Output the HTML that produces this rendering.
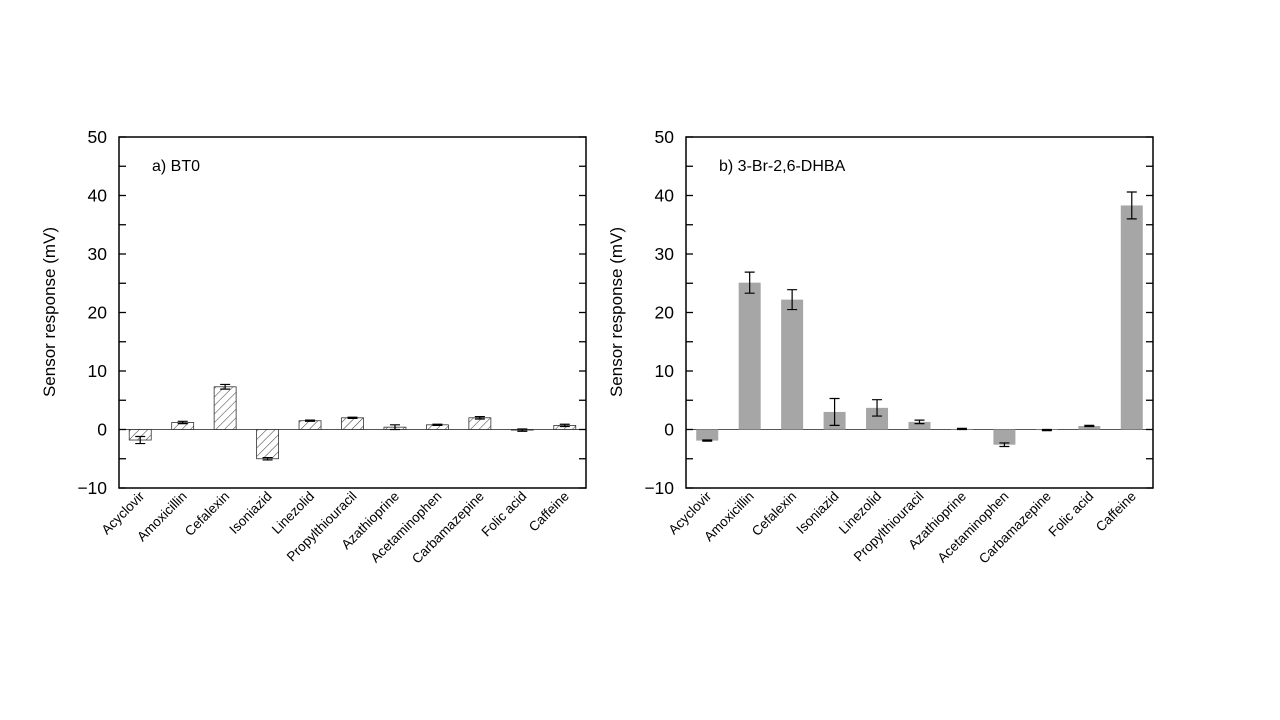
<!DOCTYPE html>
<html><head><meta charset="utf-8"><style>
body{margin:0;background:#fff;}
svg{display:block;font-family:"Liberation Sans",Arial,sans-serif;}
</style></head><body>
<svg id="chart" width="1280" height="720">
<defs>
<pattern id="hatch" width="6" height="6" patternUnits="userSpaceOnUse" patternTransform="rotate(45)">
<rect width="6" height="6" fill="#fff"/><line x1="0" y1="0" x2="0" y2="6" stroke="#444" stroke-width="1.1"/>
</pattern>
</defs>
</svg>
<script>
const categories=["Acyclovir","Amoxicillin","Cefalexin","Isoniazid","Linezolid","Propylthiouracil","Azathioprine","Acetaminophen","Carbamazepine","Folic acid","Caffeine"];
const bt0Values=[-1.8,1.2,7.3,-5.0,1.5,2.0,0.4,0.8,2.0,-0.1,0.7];
const bt0Errors=[0.6,0.2,0.4,0.2,0.1,0.1,0.4,0.1,0.2,0.2,0.2];
const dhbaValues=[-1.9,25.1,22.2,3.0,3.7,1.3,0.1,-2.6,-0.1,0.6,38.3];
const dhbaErrors=[0.1,1.8,1.7,2.3,1.4,0.3,0.1,0.3,0.1,0.1,2.3];
const yTicks=[-10,0,10,20,30,40,50];
const NS="http://www.w3.org/2000/svg";
const svg=document.getElementById('chart');
function mk(tag,attrs,parent){const e=document.createElementNS(NS,tag);for(const k in attrs)e.setAttribute(k,attrs[k]);(parent||svg).appendChild(e);return e;}
function panel(x0,x1,title,vals,errs,fill,name){
  const yTop=137,yBot=488,vMin=-10,vMax=50;
  const y=v=>yBot-(v-vMin)/(vMax-vMin)*(yBot-yTop);
  const step=(x1-x0)/categories.length;
  const g=mk('g',{});
  
  
  const zl=mk('line',{x1:x0,x2:x1,y1:y(0),y2:y(0),stroke:'#555','stroke-width':1},g);
  
  
  vals.forEach((v,i)=>{
    const cx=x0+step*(i+0.5),w=22;
    const r=mk('rect',{x:cx-w/2,y:Math.min(y(v),y(0)),width:w,height:Math.abs(y(v)-y(0)),fill:fill,stroke:fill==='#a6a6a6'?'none':'#333','stroke-width':0.8},g);
    
    
    const e=errs[i],ya=y(v+e),yb=y(v-e);
    const eg=mk('path',{d:`M${cx},${ya}V${yb}M${cx-5},${ya}H${cx+5}M${cx-5},${yb}H${cx+5}`,stroke:'#000','stroke-width':1.2,fill:'none'},g);
    
    
    const t=mk('text',{x:cx+5,y:497,'font-size':13.5,'text-anchor':'end',transform:`rotate(-45 ${cx+5} 497)`},g);
    t.textContent=categories[i];
    
    
  });
  for(let v=-10;v<=50;v+=5){
    const yy=y(v);
    mk('line',{x1:x0,x2:x0+7,y1:yy,y2:yy,stroke:'#000','stroke-width':1.3},g);
    mk('line',{x1:x1,x2:x1-7,y1:yy,y2:yy,stroke:'#000','stroke-width':1.3},g);
  }
  yTicks.forEach(v=>{
    const t=mk('text',{x:x0-12,y:y(v)+6,'font-size':17.5,'text-anchor':'end'},g);
    t.textContent=v<0?'\u2212'+(-v):v;
    
    
  });
  const fr=mk('rect',{x:x0,y:yTop,width:x1-x0,height:yBot-yTop,fill:'none',stroke:'#000','stroke-width':1.5},g);
  
  
  const tt=mk('text',{x:x0+33,y:171,'font-size':16},g);
  tt.textContent=title;
  
  
  const yl=mk('text',{x:x0-64,y:312,'font-size':17,'text-anchor':'middle',transform:`rotate(-90 ${x0-64} 312)`},g);
  yl.textContent='Sensor response (mV)';
  
  
}
panel(119,586,'a) BT0',bt0Values,bt0Errors,'url(#hatch)','panel-a-bt0');
panel(686,1153,'b) 3-Br-2,6-DHBA',dhbaValues,dhbaErrors,'#a6a6a6','panel-b-dhba');
</script>
</body></html>
